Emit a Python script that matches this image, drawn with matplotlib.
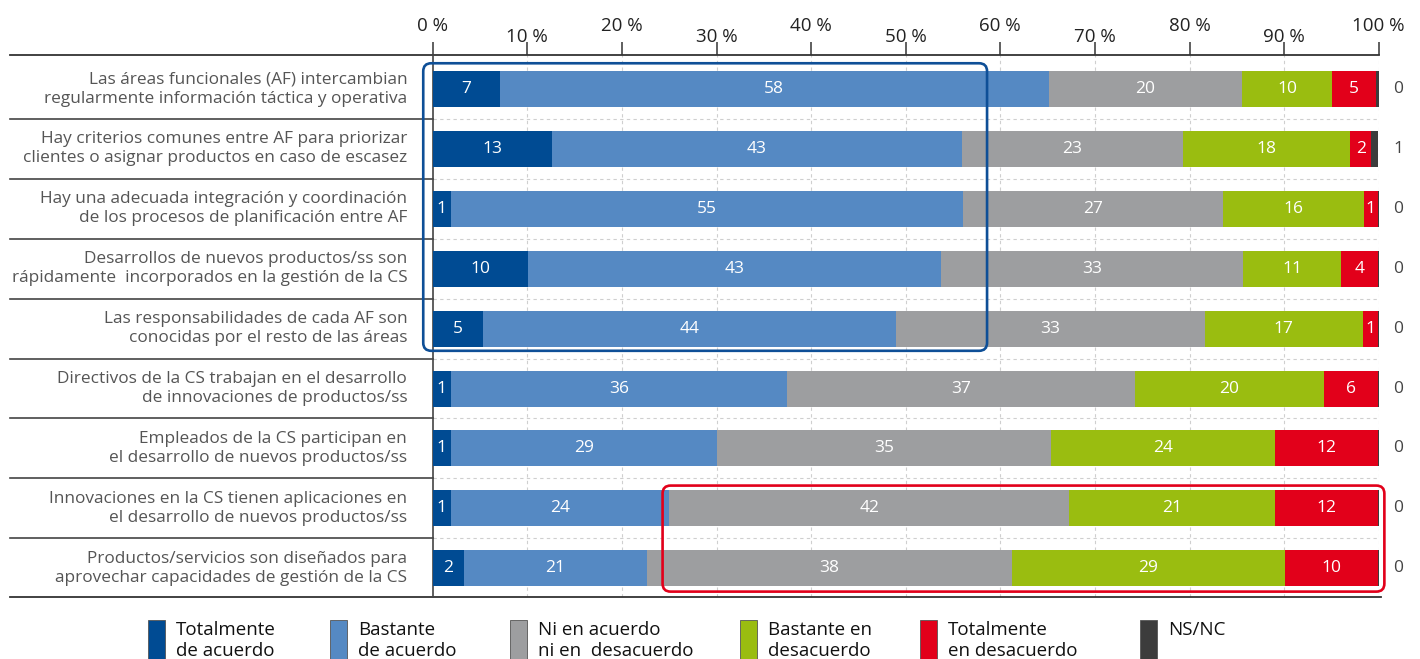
import matplotlib
matplotlib.use("Agg")
import matplotlib.pyplot as plt
from matplotlib.patches import Rectangle, FancyBboxPatch
from matplotlib.transforms import blended_transform_factory

plt.rcParams['font.family'] = ['Open Sans', 'DejaVu Sans']

# categories (top to bottom)
categorias = [
    "Las áreas funcionales (AF) intercambian\nregularmente información táctica y operativa",
    "Hay criterios comunes entre AF para priorizar\nclientes o asignar productos en caso de escasez",
    "Hay una adecuada integración y coordinación\nde los procesos de planificación entre AF",
    "Desarrollos de nuevos productos/ss son\nrápidamente  incorporados en la gestión de la CS",
    "Las responsabilidades de cada AF son\nconocidas por el resto de las áreas",
    "Directivos de la CS trabajan en el desarrollo\nde innovaciones de productos/ss",
    "Empleados de la CS participan en\nel desarrollo de nuevos productos/ss",
    "Innovaciones en la CS tienen aplicaciones en\nel desarrollo de nuevos productos/ss",
    "Productos/servicios son diseñados para\naprovechar capacidades de gestión de la CS",
]

# bar widths (%)
totalmente_acuerdo = [7.1, 12.6, 1.9, 10.1, 5.3, 1.9, 1.9, 1.9, 3.3]
bastante_acuerdo = [58.0, 43.3, 54.2, 43.6, 43.7, 35.6, 28.2, 23.1, 19.35]
ni_ni = [20.4, 23.4, 27.4, 32.0, 32.6, 36.7, 35.3, 42.3, 38.6]
bastante_desacuerdo = [9.6, 17.7, 14.9, 10.3, 16.7, 20.0, 23.6, 21.7, 28.8]
totalmente_desacuerdo = [4.6, 2.2, 1.5, 3.9, 1.6, 5.7, 10.9, 10.9, 9.9]
ns_nc = [0.3, 0.7, 0.15, 0.1, 0.1, 0.1, 0.1, 0.1, 0.1]

# printed labels
lab_ta = [7, 13, 1, 10, 5, 1, 1, 1, 2]
lab_ba = [58, 43, 55, 43, 44, 36, 29, 24, 21]
lab_ni = [20, 23, 27, 33, 33, 37, 35, 42, 38]
lab_bd = [10, 18, 16, 11, 17, 20, 24, 21, 29]
lab_td = [5, 2, 1, 4, 1, 6, 12, 12, 10]
lab_ns = [0, 1, 0, 0, 0, 0, 0, 0, 0]

series_names = ["Totalmente\nde acuerdo", "Bastante\nde acuerdo", "Ni en acuerdo\nni en  desacuerdo",
                "Bastante en\ndesacuerdo", "Totalmente\nen desacuerdo", "NS/NC"]
colores = ["#004B93", "#5589C3", "#9D9EA0", "#9ABD10", "#E2001A", "#3C3C3C"]

W, H = 1420, 659
fig = plt.figure(figsize=(W / 100, H / 100), dpi=100)

def fx(px):
    return px / W

def fy(py):
    return 1 - py / H

ax = fig.add_axes([fx(432.7), fy(597), fx(1378.7) - fx(432.7), fy(55) - fy(597)])

ys = list(range(len(categorias)))
series = [totalmente_acuerdo, bastante_acuerdo, ni_ni, bastante_desacuerdo, totalmente_desacuerdo, ns_nc]
labels = [lab_ta, lab_ba, lab_ni, lab_bd, lab_td, None]

left = [0.0] * len(ys)
for vals, labs, col in zip(series, labels, colores):
    ax.barh(ys, vals, left=left, height=0.6, color=col, edgecolor='none', zorder=3)
    if labs is not None:
        for y, l, v, t in zip(ys, left, vals, labs):
            ax.text(l + v / 2, y, str(t), ha='center', va='center', color='white',
                    fontsize=12.5, zorder=5)
    left = [a + b for a, b in zip(left, vals)]

for y, t in zip(ys, lab_ns):
    ax.text(102.1, y, str(t), ha='center', va='center', color='#444444', fontsize=12.5, clip_on=False)

for y, c in zip(ys, categorias):
    ax.text(-2.7, y, c, ha='right', va='center', color='#555555', fontsize=12.4,
            linespacing=1.25, clip_on=False)

ax.set_xlim(0, 100)
ax.set_ylim(8.48, -0.568)
ax.set_yticks([])

# grid
for x in range(10, 101, 10):
    ax.axvline(x, color='#cfcfcf', lw=0.8, ls=(0, (3, 3)), zorder=1)
for i in range(len(ys) - 1):
    ax.axhline(i + 0.5, color='#cfcfcf', lw=0.8, ls=(0, (3, 3)), zorder=1)

# separators in label area
tr = blended_transform_factory(ax.transAxes, ax.transData)
x0 = (10 - 432.7) / (1378.7 - 432.7)
for i in range(len(ys) - 1):
    ax.plot([x0, 0], [i + 0.5, i + 0.5], color='#444444', lw=1.2, transform=tr, clip_on=False)
ax.plot([x0, 1], [1, 1], color='#333333', lw=1.3, transform=ax.transAxes, clip_on=False)
ax.plot([x0, 1.002], [0, 0], color='#333333', lw=1.3, transform=ax.transAxes, clip_on=False)

for s in ['top', 'right', 'bottom']:
    ax.spines[s].set_visible(False)
ax.spines['left'].set_color('#444444')
ax.spines['left'].set_linewidth(1.2)

# staggered top ticks
ax.xaxis.tick_top()
ax.set_xticks(range(0, 101, 20))
ax.set_xticklabels([f"{v} %" for v in range(0, 101, 20)])
ax.set_xticks(range(10, 100, 20), minor=True)
ax.set_xticklabels([f"{v} %" for v in range(10, 100, 20)], minor=True)
ax.tick_params(axis='x', which='both', direction='out', length=9.4, width=1.2,
               color='#444444', labelsize=13.5, labelcolor='#222222')
ax.tick_params(axis='x', which='major', pad=5)
ax.tick_params(axis='x', which='minor', pad=-3)

# highlight boxes
blue_box = FancyBboxPatch((-1.0, -0.43), 59.6, 4.8,
                          boxstyle="round,pad=0,rounding_size=0.85", mutation_aspect=0.158,
                          fill=False, ec='#0E4F97', lw=1.9, zorder=6, clip_on=False)
ax.add_patch(blue_box)
red_box = FancyBboxPatch((24.3, 6.62), 76.3, 1.77,
                         boxstyle="round,pad=0,rounding_size=0.85", mutation_aspect=0.158,
                         fill=False, ec='#E2001A', lw=1.9, zorder=6, clip_on=False)
ax.add_patch(red_box)

# legend
leg_x = [148, 330, 510, 740, 920, 1140]
for lx, name, col in zip(leg_x, series_names, colores):
    fig.add_artist(Rectangle((fx(lx), fy(662)), fx(17), fy(620) - fy(662), facecolor=col,
                             edgecolor='#555555', lw=0.6))
    fig.text(fx(lx + 28), fy(621), name, ha='left', va='top', fontsize=13.5, color='#111111',
             linespacing=1.25)

fig.savefig("out.png", dpi=100)
